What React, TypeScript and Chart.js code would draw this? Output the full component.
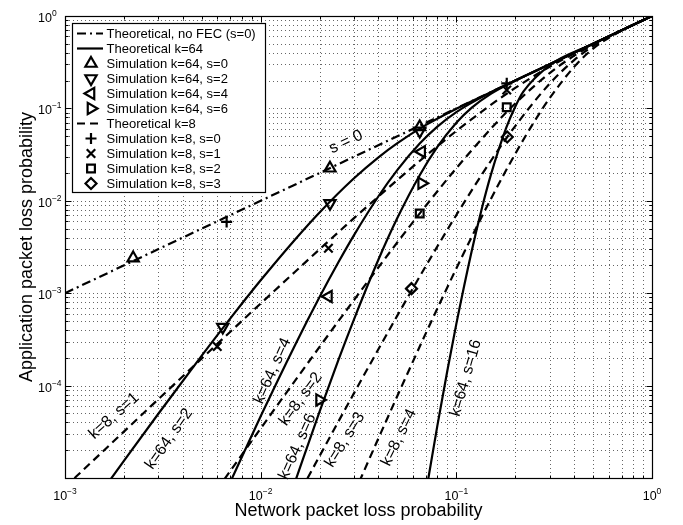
import React, { useEffect, useRef } from 'react';
import { Chart, registerables } from 'chart.js';

Chart.register(...registerables);

// ---------- axes ----------
const xMin = 1e-3;
const xMax = 1;
const yMin = 1e-5;
const yMax = 1;
const xTickExps = [-3, -2, -1, 0];
const yTickExps = [0, -1, -2, -3, -4];
const xTitle = 'Network packet loss probability';
const yTitle = 'Application packet loss probability';

// ---------- theoretical curves (network loss p -> application loss) ----------
const noFecP = [0.001, 0.01, 0.1, 1];
const noFecY = [0.001, 0.01, 0.1, 1];

const k64s2P = [0.0015, 0.002, 0.003, 0.005, 0.007, 0.01, 0.015, 0.02, 0.03, 0.04, 0.05, 0.07, 0.1, 0.15, 0.2, 0.3, 0.5, 1];
const k64s2Y = [6.6e-6, 1.53e-5, 4.96e-5, 2.11e-4, 5.34e-4, 1.38e-3, 3.82e-3, 7.49e-3, 1.753e-2, 2.956e-2, 4.212e-2, 6.631e-2, 9.913e-2, 0.15, 0.2, 0.3, 0.5, 1];

const k64s4P = [0.007, 0.01, 0.015, 0.02, 0.025, 0.03, 0.04, 0.05, 0.065, 0.08, 0.1, 0.15, 0.2, 0.3, 0.5, 1];
const k64s4Y = [9.06e-6, 4.65e-5, 2.755e-4, 9.08e-4, 2.174e-3, 4.257e-3, 1.12e-2, 2.163e-2, 4.164e-2, 6.35e-2, 9.13e-2, 0.149, 0.1999, 0.3, 0.5, 1];

const k64s6P = [0.015, 0.02, 0.025, 0.03, 0.04, 0.05, 0.065, 0.08, 0.1, 0.12, 0.15, 0.2, 0.3, 0.5, 1];
const k64s6Y = [9.13e-6, 5.23e-5, 1.909e-4, 5.22e-4, 2.313e-3, 6.54e-3, 1.894e-2, 3.824e-2, 7.0e-2, 0.102, 0.1437, 0.1994, 0.3, 0.5, 1];

const k64s16P = [0.068, 0.072, 0.08, 0.09, 0.1, 0.12, 0.135, 0.15, 0.18, 0.2, 0.22, 0.3, 0.5, 1];
const k64s16Y = [4.9e-6, 1.0e-5, 3.685e-5, 1.458e-4, 4.655e-4, 2.904e-3, 8.27e-3, 1.896e-2, 6.18e-2, 0.1042, 0.1516, 0.293, 0.5, 1];

const k8s1P = [0.001, 0.0015, 0.002, 0.003, 0.005, 0.007, 0.01, 0.015, 0.02, 0.03, 0.05, 0.07, 0.1, 0.15, 0.2, 0.3, 0.5, 0.7, 1];
const k8s1Y = [7.97e-6, 1.79e-5, 3.18e-5, 7.12e-5, 1.965e-4, 3.83e-4, 7.73e-4, 1.708e-3, 2.985e-3, 6.49e-3, 1.683e-2, 3.083e-2, 5.695e-2, 0.1091, 0.1665, 0.2827, 0.498, 0.7, 1];

const k8s2P = [0.005, 0.007, 0.01, 0.015, 0.02, 0.03, 0.05, 0.07, 0.1, 0.15, 0.2, 0.3, 0.4, 0.5, 0.7, 1];
const k8s2Y = [4.4e-6, 1.195e-5, 3.436e-5, 1.133e-4, 2.623e-4, 8.447e-4, 3.561e-3, 8.895e-3, 2.252e-2, 6.008e-2, 0.1128, 0.2412, 0.3718, 0.4902, 0.6997, 1];

const k8s3P = [0.015, 0.02, 0.03, 0.05, 0.07, 0.1, 0.15, 0.2, 0.3, 0.4, 0.5, 0.7, 1];
const k8s3Y = [5.61e-6, 1.728e-5, 8.29e-5, 5.75e-4, 1.984e-3, 7.02e-3, 2.697e-2, 6.444e-2, 0.1852, 0.3331, 0.4727, 0.6989, 1];

const k8s4P = [0.03, 0.04, 0.05, 0.07, 0.1, 0.15, 0.2, 0.25, 0.3, 0.4, 0.5, 0.7, 1];
const k8s4Y = [6.77e-6, 2.694e-5, 7.76e-5, 3.717e-4, 1.854e-3, 1.042e-2, 3.223e-2, 7.167e-2, 0.1291, 0.2815, 0.4434, 0.697, 1];

// ---------- simulation points ----------
const simK64S0P = [0.00223, 0.0226, 0.065];
const simK64S0Y = [0.0024, 0.0225, 0.063];
const simK64S2P = [0.0064, 0.0226, 0.065];
const simK64S2Y = [4.3e-4, 9.4e-3, 0.057];
const simK64S4P = [0.0222, 0.0665];
const simK64S4Y = [9.2e-4, 0.034];
const simK64S6P = [0.02, 0.0665];
const simK64S6Y = [7.0e-5, 0.0155];
const simK8S0P = [0.0067, 0.181];
const simK8S0Y = [0.0059, 0.187];
const simK8S1P = [0.006, 0.0222, 0.181];
const simK8S1Y = [2.65e-4, 3.06e-3, 0.158];
const simK8S2P = [0.065, 0.181];
const simK8S2Y = [7.3e-3, 0.103];
const simK8S3P = [0.059, 0.182];
const simK8S3Y = [1.12e-3, 0.049];

// ---------- legend & in-plot annotations ----------
const legendLabels = [
  'Theoretical, no FEC (s=0)',
  'Theoretical k=64',
  'Simulation k=64, s=0',
  'Simulation k=64, s=2',
  'Simulation k=64, s=4',
  'Simulation k=64, s=6',
  'Theoretical k=8',
  'Simulation k=8, s=0',
  'Simulation k=8, s=1',
  'Simulation k=8, s=2',
  'Simulation k=8, s=3',
];

const curveLabels = [
  { text: 's = 0', x: 0.0273, y: 0.0433, angle: -25.3 },
  { text: 'k=8, s=1', x: 1.78e-3, y: 4.69e-5, angle: -42 },
  { text: 'k=64, s=2', x: 3.4e-3, y: 2.64e-5, angle: -55 },
  { text: 'k=64, s=4', x: 0.01149, y: 1.44e-4, angle: -66 },
  { text: 'k=8, s=2', x: 0.01603, y: 7.16e-5, angle: -54 },
  { text: 'k=64, s=6', x: 0.01542, y: 2.18e-5, angle: -66 },
  { text: 'k=8, s=3', x: 0.02697, y: 2.58e-5, angle: -58 },
  { text: 'k=8, s=4', x: 0.0509, y: 2.74e-5, angle: -64 },
  { text: 'k=64, s=16', x: 0.1119, y: 1.21e-4, angle: -74 },
];

const FONT = '"Liberation Sans", Arial, Helvetica, sans-serif';
const DASH_K8 = [8, 5];
const DASH_NOFEC = [9, 4, 2, 4];
const LINE_W = 2.2;

const toXY = (xs: number[], ys: number[]) => xs.map((x, i) => ({ x, y: ys[i] }));

const lineDs = (label: string, xs: number[], ys: number[], dash: number[]) => ({
  label,
  data: toXY(xs, ys),
  showLine: true,
  borderColor: '#000',
  backgroundColor: '#000',
  borderWidth: LINE_W,
  borderDash: dash,
  pointRadius: 0,
  cubicInterpolationMode: 'monotone' as const,
  fill: false,
});

const markDs = (label: string, xs: number[], ys: number[], style: string, rot: number, r: number) => ({
  label,
  data: toXY(xs, ys),
  showLine: false,
  borderColor: '#000',
  backgroundColor: 'rgba(0,0,0,0)',
  pointStyle: style,
  pointRotation: rot,
  pointRadius: r,
  pointBorderWidth: 2.2,
  pointBackgroundColor: 'rgba(0,0,0,0)',
  pointBorderColor: '#000',
});

function drawMarker(ctx: CanvasRenderingContext2D, style: string, x: number, y: number, rot: number, r: number) {
  ctx.beginPath();
  const rad = (rot * Math.PI) / 180;
  if (style === 'triangle') {
    let a = rad;
    ctx.moveTo(x + Math.sin(a) * r, y - Math.cos(a) * r);
    a += (2 * Math.PI) / 3;
    ctx.lineTo(x + Math.sin(a) * r, y - Math.cos(a) * r);
    a += (2 * Math.PI) / 3;
    ctx.lineTo(x + Math.sin(a) * r, y - Math.cos(a) * r);
    ctx.closePath();
  } else if (style === 'cross') {
    ctx.moveTo(x, y - r); ctx.lineTo(x, y + r);
    ctx.moveTo(x - r, y); ctx.lineTo(x + r, y);
  } else if (style === 'crossRot') {
    const o = r * Math.SQRT1_2;
    ctx.moveTo(x - o, y - o); ctx.lineTo(x + o, y + o);
    ctx.moveTo(x - o, y + o); ctx.lineTo(x + o, y - o);
  } else if (style === 'rect') {
    const h = r * Math.SQRT1_2;
    ctx.rect(x - h, y - h, 2 * h, 2 * h);
  } else if (style === 'rectRot') {
    ctx.moveTo(x, y - r); ctx.lineTo(x + r, y); ctx.lineTo(x, y + r); ctx.lineTo(x - r, y);
    ctx.closePath();
  }
  ctx.stroke();
}

function gridValues(minExp: number, maxExp: number) {
  const out: number[] = [];
  for (let e = minExp; e < maxExp; e++) {
    for (let m = 1; m <= 9; m++) out.push(m * Math.pow(10, e));
  }
  out.push(Math.pow(10, maxExp));
  return out;
}

const supMap: Record<string, string> = { '-': '\u2212' };

const decorPlugin = {
  id: 'decor',
  beforeDatasetsDraw(chart: any) {
    const { ctx, chartArea: a, scales } = chart;
    const xs = scales.x;
    const ys = scales.y;
    ctx.save();
    ctx.strokeStyle = 'rgba(0,0,0,0.6)';
    ctx.lineWidth = 1;
    ctx.setLineDash([1, 3]);
    for (const v of gridValues(Math.log10(xMin), Math.log10(xMax))) {
      if (v <= xMin * 1.0001 || v >= xMax * 0.9999) continue;
      const px = Math.round(xs.getPixelForValue(v)) + 0.5;
      ctx.beginPath(); ctx.moveTo(px, a.top); ctx.lineTo(px, a.bottom); ctx.stroke();
    }
    for (const v of gridValues(Math.log10(yMin), Math.log10(yMax))) {
      if (v <= yMin * 1.0001 || v >= yMax * 0.9999) continue;
      const py = Math.round(ys.getPixelForValue(v)) + 0.5;
      ctx.beginPath(); ctx.moveTo(a.left, py); ctx.lineTo(a.right, py); ctx.stroke();
    }
    ctx.restore();
  },
  afterDatasetsDraw(chart: any) {
    const { ctx, chartArea: a, scales } = chart;
    const xs = scales.x;
    const ys = scales.y;
    ctx.save();
    ctx.setLineDash([]);
    ctx.strokeStyle = '#000';
    ctx.fillStyle = '#000';
    ctx.lineWidth = 1;

    // frame
    const L = Math.round(a.left) + 0.5, R = Math.round(a.right) + 0.5;
    const T = Math.round(a.top) + 0.5, B = Math.round(a.bottom) + 0.5;
    ctx.lineWidth = 1.2;
    ctx.strokeRect(L, T, R - L, B - T);
    ctx.lineWidth = 1;

    // tick marks (inward, all sides)
    for (const v of gridValues(Math.log10(xMin), Math.log10(xMax))) {
      const major = Math.abs(Math.log10(v) - Math.round(Math.log10(v))) < 1e-9;
      const len = major ? 6 : 3;
      const px = Math.round(xs.getPixelForValue(v)) + 0.5;
      ctx.beginPath();
      ctx.moveTo(px, B); ctx.lineTo(px, B - len);
      ctx.moveTo(px, T); ctx.lineTo(px, T + len);
      ctx.stroke();
    }
    for (const v of gridValues(Math.log10(yMin), Math.log10(yMax))) {
      const major = Math.abs(Math.log10(v) - Math.round(Math.log10(v))) < 1e-9;
      const len = major ? 6 : 3;
      const py = Math.round(ys.getPixelForValue(v)) + 0.5;
      ctx.beginPath();
      ctx.moveTo(L, py); ctx.lineTo(L + len, py);
      ctx.moveTo(R, py); ctx.lineTo(R - len, py);
      ctx.stroke();
    }

    // tick labels 10^n
    const baseFont = `12.5px ${FONT}`;
    const expFont = `8.5px ${FONT}`;
    ctx.textBaseline = 'alphabetic';
    ctx.textAlign = 'left';
    for (const e of xTickExps) {
      const px = xs.getPixelForValue(Math.pow(10, e));
      const expStr = String(e).split('').map((c) => supMap[c] || c).join('');
      ctx.font = baseFont; const w1 = ctx.measureText('10').width;
      ctx.font = expFont; const w2 = ctx.measureText(expStr).width;
      const x0 = px - (w1 + w2) / 2;
      ctx.font = baseFont; ctx.fillText('10', x0, 500);
      ctx.font = expFont; ctx.fillText(expStr, x0 + w1, 494);
    }
    for (const e of yTickExps) {
      const py = ys.getPixelForValue(Math.pow(10, e));
      const expStr = String(e).split('').map((c) => supMap[c] || c).join('');
      ctx.font = baseFont; const w1 = ctx.measureText('10').width;
      ctx.fillText('10', 38, py + 6);
      ctx.font = expFont; ctx.fillText(expStr, 38 + w1, py);
    }

    // axis titles
    ctx.font = `18px ${FONT}`;
    ctx.textAlign = 'center';
    ctx.textBaseline = 'alphabetic';
    ctx.fillText(xTitle, (a.left + a.right) / 2, 516);
    ctx.save();
    ctx.translate(32, (a.top + a.bottom) / 2);
    ctx.rotate(-Math.PI / 2);
    ctx.fillText(yTitle, 0, 0);
    ctx.restore();

    // in-plot curve labels
    ctx.font = `16px ${FONT}`;
    ctx.textAlign = 'center';
    ctx.textBaseline = 'middle';
    for (const lab of curveLabels) {
      const px = xs.getPixelForValue(lab.x);
      const py = ys.getPixelForValue(lab.y);
      ctx.save();
      ctx.translate(px, py);
      ctx.rotate((lab.angle * Math.PI) / 180);
      ctx.fillText(lab.text, 0, 0);
      ctx.restore();
    }

    // legend
    const lx = 72, ly = 23, lw = 193, lh = 169;
    ctx.fillStyle = '#fff';
    ctx.fillRect(lx, ly, lw, lh);
    ctx.strokeStyle = '#000';
    ctx.lineWidth = 1.2;
    ctx.strokeRect(lx + 0.5, ly + 0.5, lw, lh);
    const spec: any[] = [
      { kind: 'line', dash: DASH_NOFEC },
      { kind: 'line', dash: [] },
      { kind: 'mark', style: 'triangle', rot: 0, r: 6.5 },
      { kind: 'mark', style: 'triangle', rot: 180, r: 6.5 },
      { kind: 'mark', style: 'triangle', rot: 270, r: 6.5 },
      { kind: 'mark', style: 'triangle', rot: 90, r: 6.5 },
      { kind: 'line', dash: DASH_K8 },
      { kind: 'mark', style: 'cross', rot: 0, r: 5.5 },
      { kind: 'mark', style: 'crossRot', rot: 0, r: 6 },
      { kind: 'mark', style: 'rect', rot: 0, r: 5.5 },
      { kind: 'mark', style: 'rectRot', rot: 0, r: 5.5 },
    ];
    ctx.font = `13px ${FONT}`;
    ctx.textAlign = 'left';
    ctx.textBaseline = 'middle';
    legendLabels.forEach((label, i) => {
      const cy = 33.5 + 15 * i;
      const s = spec[i];
      ctx.strokeStyle = '#000';
      if (s.kind === 'line') {
        ctx.lineWidth = LINE_W;
        ctx.setLineDash(s.dash);
        ctx.beginPath(); ctx.moveTo(77, cy); ctx.lineTo(103, cy); ctx.stroke();
        ctx.setLineDash([]);
      } else {
        ctx.lineWidth = 2.2;
        drawMarker(ctx, s.style, 91, cy, s.rot, s.r);
      }
      ctx.fillStyle = '#000';
      ctx.fillText(label, 106.5, cy + 0.5);
    });

    ctx.restore();
  },
};

export default function App() {
  const ref = useRef<HTMLCanvasElement>(null);
  useEffect(() => {
    const canvas = ref.current;
    if (!canvas) return;
    const datasets: any[] = [
      lineDs(legendLabels[0], noFecP, noFecY, DASH_NOFEC),
      lineDs('k=64, s=2', k64s2P, k64s2Y, []),
      lineDs('k=64, s=4', k64s4P, k64s4Y, []),
      lineDs('k=64, s=6', k64s6P, k64s6Y, []),
      lineDs('k=64, s=16', k64s16P, k64s16Y, []),
      lineDs('k=8, s=1', k8s1P, k8s1Y, DASH_K8),
      lineDs('k=8, s=2', k8s2P, k8s2Y, DASH_K8),
      lineDs('k=8, s=3', k8s3P, k8s3Y, DASH_K8),
      lineDs('k=8, s=4', k8s4P, k8s4Y, DASH_K8),
      markDs(legendLabels[2], simK64S0P, simK64S0Y, 'triangle', 0, 6.5),
      markDs(legendLabels[3], simK64S2P, simK64S2Y, 'triangle', 180, 6.5),
      markDs(legendLabels[4], simK64S4P, simK64S4Y, 'triangle', 270, 6.5),
      markDs(legendLabels[5], simK64S6P, simK64S6Y, 'triangle', 90, 6.5),
      markDs(legendLabels[7], simK8S0P, simK8S0Y, 'cross', 0, 5.5),
      markDs(legendLabels[8], simK8S1P, simK8S1Y, 'crossRot', 0, 6),
      markDs(legendLabels[9], simK8S2P, simK8S2Y, 'rect', 0, 5.5),
      markDs(legendLabels[10], simK8S3P, simK8S3Y, 'rectRot', 0, 5.5),
    ];
    const chart = new Chart(canvas, {
      type: 'line',
      data: { datasets },
      options: {
        responsive: false,
        animation: false,
        devicePixelRatio: 1,
        parsing: true,
        layout: { padding: { left: 0, right: 31, top: 16, bottom: 0 } },
        plugins: { legend: { display: false }, tooltip: { enabled: false } },
        scales: {
          x: {
            type: 'logarithmic',
            min: xMin,
            max: xMax,
            grid: { display: false },
            border: { display: false },
            ticks: { display: false },
            afterFit: (s: any) => { s.height = 47; },
          },
          y: {
            type: 'logarithmic',
            min: yMin,
            max: yMax,
            grid: { display: false },
            border: { display: false },
            ticks: { display: false },
            afterFit: (s: any) => { s.width = 65; },
          },
        },
      } as any,
      plugins: [decorPlugin as any],
    });
    return () => chart.destroy();
  }, []);
  return (
    <div style={{ position: 'fixed', left: 0, top: 0, width: 683, height: 525, background: '#fff' }}>
      <canvas ref={ref} width={683} height={525} style={{ display: 'block', width: 683, height: 525 }} />
    </div>
  );
}
